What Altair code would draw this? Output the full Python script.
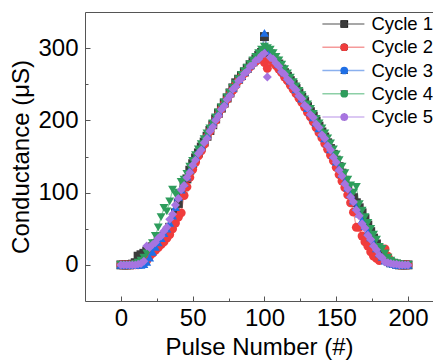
import altair as alt
import pandas as pd

pulses = list(range(0, 201, 2))

cycle1 = [0, 0, 0, 0, 1, 3, 12, 14, 16, 19, 22, 25, 29, 33, 36, 40, 45, 52, 60, 72,
          85, 98, 108, 119, 131, 140, 148, 155, 163, 170, 178, 186, 194, 202, 210, 217, 224, 231, 238, 245,
          252, 257, 262, 267, 272, 277, 281, 285, 290, 294, 316,
          294, 292, 287, 282, 278, 271, 266, 261, 255, 250, 244, 238, 232, 226, 219, 212, 206, 199, 192, 184,
          177, 169, 161, 153, 145, 136, 127, 117, 108, 99, 93, 86, 79, 72, 64, 55, 46, 37, 29, 22,
          16, 10, 6, 3, 2, 1, 0, 0, 0, 0]
cycle2 = [0, 0, 0, 0, 0, 0, 0, 1, 2, 6, 12, 16, 20, 24, 28, 32, 37, 42, 50, 58,
          66, 72, 96, 108, 121, 132, 142, 151, 158, 167, 177, 185, 193, 200, 208, 216, 222, 229, 236, 242,
          249, 255, 260, 265, 270, 274, 279, 282, 285, 286, 280,
          272, 284, 280, 276, 271, 266, 260, 255, 249, 243, 237, 231, 225, 218, 211, 205, 198, 190, 183, 176,
          168, 160, 152, 144, 135, 125, 116, 107, 97, 86, 73, 52, 52, 40, 32, 26, 18, 12, 9, 6,
          8, 22, 12, 5, 2, 1, 0, 0, 0, 0]
cycle3 = [0, 0, 0, 0, 0, 0, 0, 0, 1, 4, 10, 18, 25, 31, 37, 44, 50, 58, 68, 80,
          94, 104, 113, 122, 132, 141, 150, 158, 165, 173, 181, 190, 198, 205, 212, 219, 226, 233, 239, 245,
          251, 257, 262, 267, 272, 276, 281, 285, 290, 296, 321,
          302, 296, 290, 284, 278, 272, 266, 261, 255, 249, 243, 237, 230, 224, 217, 211, 204, 197, 189, 182,
          175, 168, 160, 152, 143, 135, 126, 116, 107, 98, 89, 80, 71, 62, 54, 46, 38, 30, 23, 16,
          11, 6, 4, 2, 1, 0, 0, 0, 0, 0]
cycle4 = [0, 0, 0, 0, 0, 1, 3, 6, 10, 16, 22, 30, 40, 52, 66, 79, 74, 88, 104, 98,
          100, 115, 118, 126, 136, 144, 152, 160, 167, 174, 182, 189, 196, 204, 211, 218, 225, 232, 238, 245,
          251, 257, 263, 268, 273, 278, 283, 288, 293, 298, 302,
          300, 298, 293, 288, 283, 277, 271, 265, 259, 253, 247, 241, 235, 229, 222, 216, 209, 202, 196, 189,
          182, 175, 168, 160, 153, 145, 136, 127, 118, 110, 100, 108, 84, 75, 66, 58, 50, 42, 35, 25,
          22, 16, 10, 6, 3, 2, 1, 0, 0, 0]
cycle5 = [0, 0, 0, 0, 0, 0, 1, 2, 5, 26, 24, 28, 31, 37, 40, 47, 52, 63, 70, 83,
          92, 104, 110, 121, 128, 138, 145, 154, 159, 169, 175, 185, 191, 200, 206, 215, 220, 229, 234, 243,
          247, 255, 258, 265, 268, 275, 277, 283, 285, 290, 293,
          260, 287, 285, 279, 275, 267, 264, 257, 253, 246, 242, 234, 230, 221, 217, 208, 204, 195, 190, 180,
          175, 165, 159, 149, 142, 131, 123, 112, 105, 94, 87, 76, 68, 57, 51, 41, 35, 26, 21, 13,
          10, 4, 3, 2, 1, 1, 0, 0, 0, 0]

cycle_names = ["Cycle 1", "Cycle 2", "Cycle 3", "Cycle 4", "Cycle 5"]
marker_colors = ["#3b3b3b", "#f03c3c", "#1f6fe5", "#2e9d5c", "#a774e0"]
line_colors = ["#8a8a8a", "#f59a9a", "#8ab0ee", "#8ccfa6", "#cfb6ef"]
shapes = ["square", "circle", "triangle-up", "triangle-down", "diamond"]

x_major = [0, 50, 100, 150, 200]
x_minor = [25, 75, 125, 175]
y_major = [0, 100, 200, 300]
y_minor = [50, 150, 250]

rows = []
for name, vals in zip(cycle_names, [cycle1, cycle2, cycle3, cycle4, cycle5]):
    for p, g in zip(pulses, vals):
        rows.append({"pulse": p, "g": g, "cycle": name, "cycle_l": name})
df = pd.DataFrame(rows)

FONT = "Liberation Sans"
AX = "#555555"
xscale = alt.Scale(domain=[-25, 217.4], nice=False, zero=False)
yscale = alt.Scale(domain=[-50, 350], nice=False, zero=False)

base = alt.Chart(df)

lines = base.mark_line(strokeWidth=1.2).encode(
    x=alt.X("pulse:Q", scale=xscale,
            axis=alt.Axis(values=x_major, title="Pulse Number (#)", ticks=False, tickSize=0,
                          labelPadding=5, grid=False, domainColor=AX, labelFontSize=24,
                          titleFontSize=24, titlePadding=5, labelFont=FONT, titleFont=FONT,
                          labelColor="black", titleColor="black", titleFontWeight="normal")),
    y=alt.Y("g:Q", scale=yscale,
            axis=alt.Axis(values=y_major, title="Conductance (\u03bcS)", ticks=False, tickSize=0,
                          labelPadding=7, grid=False, domainColor=AX, labelFontSize=24,
                          titleFontSize=24, titlePadding=4, labelFont=FONT, titleFont=FONT,
                          labelColor="black", titleColor="black", titleFontWeight="normal")),
    color=alt.Color("cycle_l:N", scale=alt.Scale(domain=cycle_names, range=line_colors),
                    legend=alt.Legend(title=None, orient="none", legendX=236.4, legendY=2,
                                      symbolType="stroke", symbolSize=1764, symbolStrokeWidth=1.5,
                                      labelFontSize=18.5, labelFont=FONT, labelColor="black",
                                      clipHeight=20, rowPadding=3.25, labelOffset=6, padding=0)),
    detail="cycle:N",
)

pt_legend = alt.Legend(title=None, orient="none", legendX=250, legendY=2, symbolSize=60,
                       symbolStrokeWidth=0, labelExpr="''", labelFontSize=18.5, labelFont=FONT,
                       clipHeight=20, rowPadding=3.25, padding=0)

points = base.mark_point(filled=True, size=80, opacity=1).encode(
    x=alt.X("pulse:Q", scale=xscale,
            axis=alt.Axis(values=x_major, orient="bottom", offset=-5, tickSize=5, labels=False,
                          domain=False, title=None, grid=False, tickColor=AX)),
    y=alt.Y("g:Q", scale=yscale,
            axis=alt.Axis(values=y_major, orient="left", offset=-5, tickSize=5, labels=False,
                          domain=False, title=None, grid=False, tickColor=AX)),
    color=alt.Color("cycle:N", scale=alt.Scale(domain=cycle_names, range=marker_colors), legend=pt_legend),
    shape=alt.Shape("cycle:N", scale=alt.Scale(domain=cycle_names, range=shapes), legend=pt_legend),
)

minor = base.mark_point(opacity=0).encode(
    x=alt.X("pulse:Q", scale=xscale,
            axis=alt.Axis(values=x_minor, orient="bottom", offset=-3, tickSize=3, labels=False,
                          domain=False, title=None, grid=False, tickColor=AX)),
    y=alt.Y("g:Q", scale=yscale,
            axis=alt.Axis(values=y_minor, orient="left", offset=-3, tickSize=3, labels=False,
                          domain=False, title=None, grid=False, tickColor=AX)),
)

topline = base.mark_point(opacity=0).encode(
    x=alt.X("pulse:Q", scale=xscale,
            axis=alt.Axis(orient="top", ticks=False, labels=False, domain=True, domainColor=AX,
                          title=None, grid=False)),
    y=alt.Y("g:Q", scale=yscale, axis=None),
)

chart = alt.layer(lines, points, minor, topline).resolve_scale(
    color="independent"
).resolve_axis(
    x="independent", y="independent"
).properties(
    width=348, height=289,
    autosize=alt.AutoSizeParams(type="none"),
    padding={"left": 77, "top": 4, "right": 0, "bottom": 62},
).configure_view(
    stroke="transparent"
).configure(
    font=FONT
)

chart.save("out.html", embed_options={"renderer": "svg", "actions": False})
